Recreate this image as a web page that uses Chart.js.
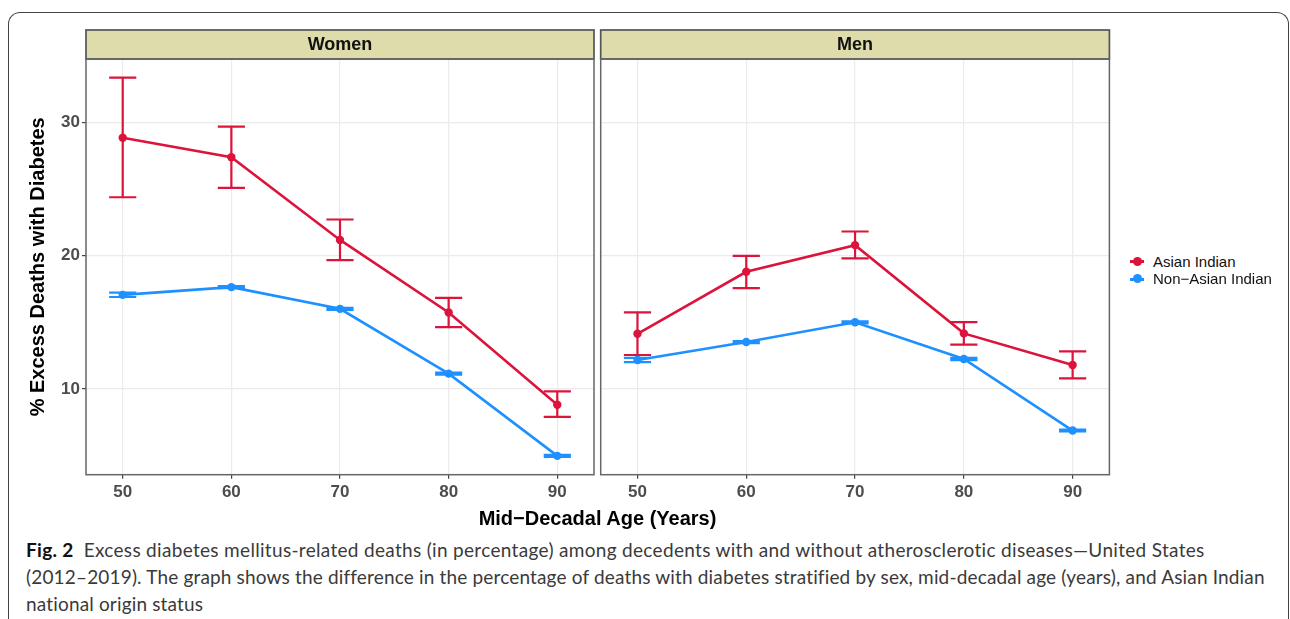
<!DOCTYPE html>
<html>
<head>
<meta charset="utf-8">
<script src="https://cdn.jsdelivr.net/npm/chart.js@4.4.1/dist/chart.umd.min.js"></script>
<style>
    body { margin: 0; width: 1290px; height: 619px; background: #fff; position: relative; overflow: hidden; font-family: "Liberation Sans", Arial, sans-serif; }
    #frame { position: absolute; left: 8px; top: 12px; width: 1281px; height: 660px; border: 1.5px solid #444; border-bottom: none; border-radius: 12px 12px 0 0; box-sizing: border-box; }
    canvas { position: absolute; top: 0; }
    #women { left: 0; }
    #men { left: 590px; }
    #xtitle { position: absolute; left: 86px; width: 1023px; top: 507px; text-align: center; font-weight: bold; font-size: 20px; color: #000; }
    .leg { position: absolute; left: 1130px; height: 18px; line-height: 18px; font-size: 15px; color: #111; display: flex; align-items: center; white-space: nowrap; }
    .mk { width: 14px; height: 3px; position: relative; margin-right: 9px; }
    .mk::after { content: ""; position: absolute; left: 2.5px; top: -3.5px; width: 9px; height: 9px; border-radius: 50%; background: inherit; }
    .cap { position: absolute; left: 26px; font-family: Lato, "Noto Sans", sans-serif; font-size: 19px; line-height: 27px; color: #3a3a3a; white-space: nowrap; }
    .cap b { font-weight: bold; color: #111; margin-right: 10px; }
</style>
</head>
<body>
<div id="frame"></div>
<canvas id="women" width="600" height="510"></canvas>
<canvas id="men" width="540" height="510"></canvas>
<div id="xtitle">Mid−Decadal Age (Years)</div>
<div id="legend"></div>
<div class="cap" id="cap1" style="top:536px"><b>Fig. 2</b>Excess diabetes mellitus-related deaths (in percentage) among decedents with and without atherosclerotic diseases—United States</div>
<div class="cap" id="cap2" style="top:563px">(2012–2019). The graph shows the difference in the percentage of deaths with diabetes stratified by sex, mid-decadal age (years), and Asian Indian</div>
<div class="cap" id="cap3" style="top:590px">national origin status</div>

<script>
// ages (mid-decade)
const ages = [50, 60, 70, 80, 90];
const xTicks = [50, 60, 70, 80, 90];
const yTicks = [10, 20, 30];
const panels = ["Women", "Men"];
const seriesNames = ["Asian Indian", "Non−Asian Indian"];
const seriesColors = ["#dc143c", "#1e90ff"];

// women
const womenAsian = [28.85, 27.38, 21.18, 15.74, 8.82];
const womenAsianLo = [24.38, 25.08, 19.66, 14.64, 7.90];
const womenAsianHi = [33.35, 29.68, 22.71, 16.84, 9.82];
const womenNonAsian = [17.06, 17.64, 16.01, 11.15, 4.98];
const womenNonAsianLo = [16.90, 17.56, 15.93, 11.07, 4.91];
const womenNonAsianHi = [17.22, 17.72, 16.09, 11.23, 5.05];

// men
const menAsian = [14.14, 18.79, 20.79, 14.17, 11.80];
const menAsianLo = [12.55, 17.57, 19.79, 13.32, 10.80];
const menAsianHi = [15.74, 19.99, 21.81, 15.02, 12.82];
const menNonAsian = [12.17, 13.52, 15.00, 12.25, 6.88];
const menNonAsianLo = [12.01, 13.44, 14.92, 12.17, 6.81];
const menNonAsianHi = [12.33, 13.60, 15.08, 12.33, 6.95];

const xMin = 46.62, xMax = 93.38;
const yMin = 3.57, yMax = 34.75;
const capHalf = 1.25;

function pts(vals) {
    return ages.map((a, i) => ({ x: a, y: vals[i] }));
}

function makeSets(asian, asianLo, asianHi, non, nonLo, nonHi) {
    return [
        { label: seriesNames[0], data: pts(asian), errLo: asianLo, errHi: asianHi },
        { label: seriesNames[1], data: pts(non), errLo: nonLo, errHi: nonHi }
    ].map((d, i) => Object.assign(d, {
        borderColor: seriesColors[i],
        backgroundColor: seriesColors[i],
        borderWidth: 2.6,
        pointRadius: 4.2,
        pointBorderWidth: 0,
        tension: 0
    }));
}

const facetPlugin = {
    id: "facet",
    afterDatasetsDraw(chart) {
        const ctx = chart.ctx;
        const xs = chart.scales.x, ys = chart.scales.y;
        ctx.save();
        chart.data.datasets.forEach((ds, i) => {
            ctx.strokeStyle = ds.borderColor;
            ctx.lineWidth = 2.2;
            ages.forEach((a, j) => {
                const x = xs.getPixelForValue(a);
                const x0 = xs.getPixelForValue(a - capHalf);
                const x1 = xs.getPixelForValue(a + capHalf);
                const yl = ys.getPixelForValue(ds.errLo[j]);
                const yh = ys.getPixelForValue(ds.errHi[j]);
                ctx.beginPath();
                ctx.moveTo(x, yl); ctx.lineTo(x, yh);
                ctx.moveTo(x0, yl); ctx.lineTo(x1, yl);
                ctx.moveTo(x0, yh); ctx.lineTo(x1, yh);
                ctx.stroke();
            });
        });
        ctx.restore();
    },
    afterDraw(chart, args, opts) {
        const ctx = chart.ctx;
        const a = chart.chartArea;
        ctx.save();
        // strip
        ctx.fillStyle = "#dfdcab";
        ctx.fillRect(a.left, 30, a.right - a.left, a.top - 30);
        ctx.strokeStyle = "#555";
        ctx.lineWidth = 1.7;
        ctx.strokeRect(a.left, 30, a.right - a.left, a.top - 30);
        ctx.fillStyle = "#111";
        ctx.font = "bold 18px 'Liberation Sans', Arial, sans-serif";
        ctx.textAlign = "center";
        ctx.textBaseline = "middle";
        ctx.fillText(opts.label, (a.left + a.right) / 2, (30 + a.top) / 2 + 1);
        // panel border
        ctx.strokeStyle = "#666";
        ctx.lineWidth = 1.5;
        ctx.strokeRect(a.left, a.top, a.right - a.left, a.bottom - a.top);
        ctx.restore();
    }
};

function makeChart(id, label, datasets, showY, yWidth, padRight) {
    const tickFont = { family: "'Liberation Sans', Arial, sans-serif", size: 17, weight: "bold" };
    return new Chart(document.getElementById(id), {
        type: "line",
        data: { datasets: datasets },
        plugins: [facetPlugin],
        options: {
            responsive: false,
            animation: false,
            layout: { padding: { top: 59, right: padRight, left: 0, bottom: 0 } },
            plugins: {
                legend: { display: false },
                tooltip: { enabled: false },
                facet: { label: label }
            },
            scales: {
                x: {
                    type: "linear",
                    min: xMin,
                    max: xMax,
                    afterBuildTicks: s => { s.ticks = xTicks.map(v => ({ value: v })); },
                    afterFit: s => { s.height = 510 - 474.7; },
                    grid: { color: "#ebebeb", lineWidth: 1.2, tickColor: "#444", tickLength: 4 },
                    border: { display: false },
                    ticks: { font: tickFont, color: "#4d4d4d", padding: 3, maxRotation: 0 }
                },
                y: {
                    min: yMin,
                    max: yMax,
                    afterBuildTicks: s => { s.ticks = yTicks.map(v => ({ value: v })); },
                    afterFit: s => { s.width = yWidth; },
                    grid: { color: "#ebebeb", lineWidth: 1.2, tickColor: "#444", tickLength: 4, drawTicks: showY },
                    border: { display: false },
                    ticks: { display: showY, font: tickFont, color: "#4d4d4d", padding: 2 },
                    title: {
                        display: showY,
                        text: "% Excess Deaths with Diabetes",
                        font: { family: "'Liberation Sans', Arial, sans-serif", size: 20, weight: "bold" },
                        color: "#000",
                        padding: { top: 26, bottom: 0 }
                    }
                }
            }
        }
    });
}

makeChart("women", panels[0],
    makeSets(womenAsian, womenAsianLo, womenAsianHi, womenNonAsian, womenNonAsianLo, womenNonAsianHi),
    true, 86, 6);
makeChart("men", panels[1],
    makeSets(menAsian, menAsianLo, menAsianHi, menNonAsian, menNonAsianLo, menNonAsianHi),
    false, 10.7, 20.6);

// legend
const legend = document.getElementById("legend");
seriesNames.forEach((name, i) => {
    const row = document.createElement("div");
    row.className = "leg";
    row.style.top = (252.7 + i * 17.6) + "px";
    const mk = document.createElement("span");
    mk.className = "mk";
    mk.style.background = seriesColors[i];
    row.appendChild(mk);
    row.appendChild(document.createTextNode(name));
    legend.appendChild(row);
});

// fit caption lines to the reference widths
[["cap1", 1205], ["cap2", 1264]].forEach(([id, right]) => {
    const el = document.getElementById(id);
    const w = el.getBoundingClientRect().width;
    const n = el.textContent.length;
    el.style.letterSpacing = ((right - 26 - w) / n) + "px";
});
document.getElementById("cap3").style.letterSpacing = document.getElementById("cap2").style.letterSpacing;
</script>
</body>
</html>
